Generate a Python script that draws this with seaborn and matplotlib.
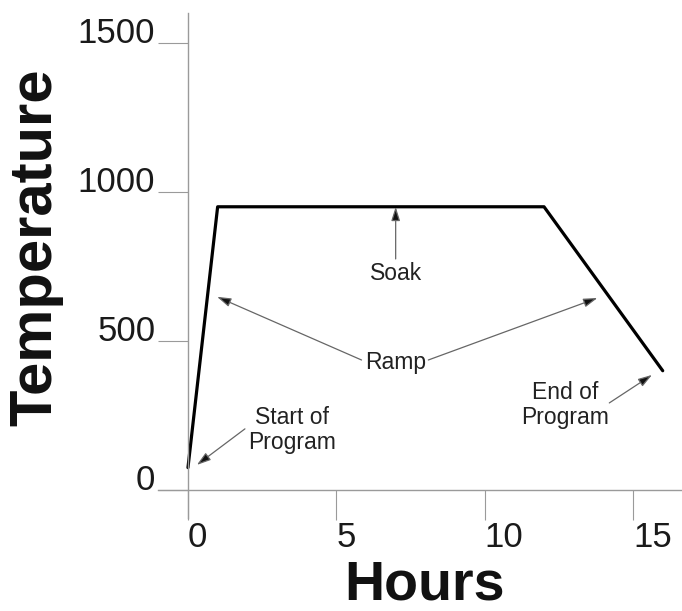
import matplotlib
matplotlib.use("Agg")
import matplotlib.pyplot as plt
import seaborn as sns
import pandas as pd

# ---- data ----
hours = [0, 1, 12, 16]
temperature = [75, 950, 950, 400]
x_ticks = [0, 5, 10, 15]
y_ticks = [0, 500, 1000, 1500]
x_label = "Hours"
y_label = "Temperature"

# annotations: (text, text position, [(arrow tail, arrow tip), ...])
soak_text, soak_pos = "Soak", (7.0, 725)
soak_arrows = [((7.0, 775), (7.0, 950))]
ramp_text, ramp_pos = "Ramp", (7.0, 426)
ramp_arrows = [((5.85, 436), (0.98, 648)), ((8.1, 436), (13.8, 644))]
start_text, start_pos = "Start of\nProgram", (3.5, 201)
start_arrows = [((1.92, 205), (0.3, 84))]
end_text, end_pos = "End of\nProgram", (12.7, 285)
end_arrows = [((14.2, 292), (15.64, 386))]

df = pd.DataFrame({"Hours": hours, "Temperature": temperature})

sns.set_theme(style="white")
plt.rcParams["font.family"] = ["Liberation Sans", "DejaVu Sans"]

W, H = 682, 611
fig = plt.figure(figsize=(W / 100, H / 100), dpi=100)
left_px, right_px, top_px, bottom_px = 158, 682, 13, 518
ax = fig.add_axes([left_px / W, (H - bottom_px) / H,
                   (right_px - left_px) / W, (bottom_px - top_px) / H])

sns.lineplot(data=df, x="Hours", y="Temperature", ax=ax, color="black",
             linewidth=2.3, sort=False, estimator=None)

ax.set_xlim(-1.01, 16.65)
ax.set_ylim(-94, 1600)

gray = "#9a9a9a"
for s in ["top", "right"]:
    ax.spines[s].set_visible(False)
ax.spines["left"].set_position(("data", 0))
ax.spines["bottom"].set_position(("data", 0))
for s in ["left", "bottom"]:
    ax.spines[s].set_color(gray)
    ax.spines[s].set_linewidth(1.0)

ax.set_xticks(x_ticks)
ax.set_yticks(y_ticks)
ax.set_xticklabels([str(v) for v in x_ticks])
ax.set_yticklabels([str(v) for v in y_ticks])
ax.tick_params(axis="x", direction="out", length=21.5, width=0.8, color=gray,
               pad=1, labelsize=25, labelcolor="#1a1a1a", bottom=True)
ax.tick_params(axis="y", direction="out", length=21.5, width=0.8, color=gray,
               pad=2, labelsize=25, labelcolor="#1a1a1a", left=True)
for lab in ax.get_xticklabels():
    lab.set_horizontalalignment("left")
for lab in ax.get_yticklabels():
    lab.set_verticalalignment("baseline")

ax.set_xlabel("")
ax.set_ylabel("")
fig.text(424 / W, 1 - 599 / H, x_label, ha="center", va="baseline",
         fontsize=40, fontweight="bold", color="#111111")
fig.text(36 / W, 1 - 247 / H, y_label, ha="center", va="center", rotation=90,
         fontsize=43, fontweight="bold", color="#111111")

arrowprops = dict(arrowstyle="-|>,head_length=0.7,head_width=0.22",
                  color="#666666", lw=0.9, shrinkA=0, shrinkB=0,
                  mutation_scale=12)
text_kw = dict(ha="center", va="center", fontsize=16.5, color="#222222",
               linespacing=1.1)

for txt, pos, arrows in [(soak_text, soak_pos, soak_arrows),
                         (ramp_text, ramp_pos, ramp_arrows),
                         (start_text, start_pos, start_arrows),
                         (end_text, end_pos, end_arrows)]:
    ax.text(pos[0], pos[1], txt, **text_kw)
    for tail, tip in arrows:
        ann = ax.annotate("", xy=tip, xytext=tail, arrowprops=arrowprops)
        ann.arrow_patch.set_facecolor("#111111")

fig.savefig("out.png", dpi=100, facecolor="white")
